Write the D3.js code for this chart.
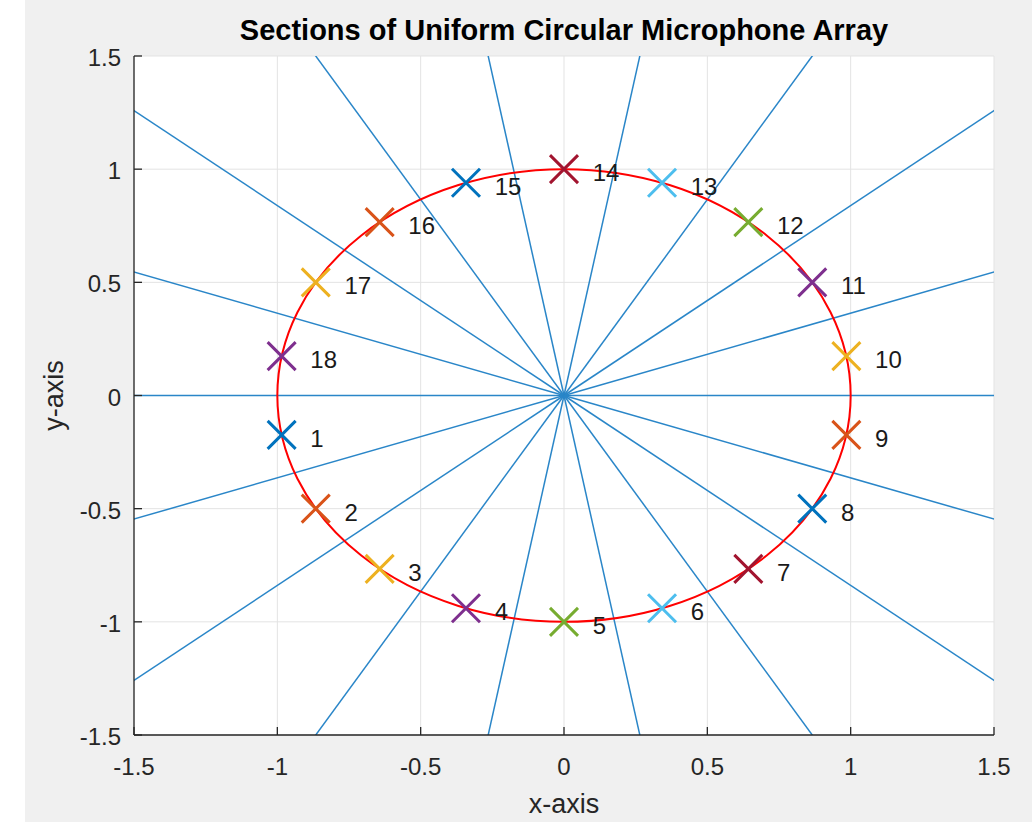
<!DOCTYPE html>
<html>
<head>
<meta charset="utf-8">
<script src="https://cdn.jsdelivr.net/npm/d3@7"></script>
<style>
  body { margin: 0; background: #fff; }
  text { font-family: "Liberation Sans", Arial, sans-serif; }
</style>
</head>
<body>
<script>
// microphone positions (x, y)
var micLabels = ['1','2','3','4','5','6','7','8','9','10','11','12','13','14','15','16','17','18'];
var micX = [-0.985, -0.866, -0.643, -0.342, 0, 0.342, 0.643, 0.866, 0.985,
            0.985, 0.866, 0.643, 0.342, 0, -0.342, -0.643, -0.866, -0.985];
var micY = [-0.174, -0.5, -0.766, -0.94, -1, -0.94, -0.766, -0.5, -0.174,
            0.174, 0.5, 0.766, 0.94, 1, 0.94, 0.766, 0.5, 0.174];
// section boundary rays (degrees)
var rayAngles = [0, 20, 40, 60, 80, 100, 120, 140, 160, 180, 200, 220, 240, 260, 280, 300, 320, 340];
var ticks = [-1.5, -1, -0.5, 0, 0.5, 1, 1.5];
var tickLabels = ['-1.5', '-1', '-0.5', '0', '0.5', '1', '1.5'];
var micColors = ['#0072BD', '#D95319', '#EDB120', '#7E2F8E', '#77AC30', '#4DBEEE', '#A2142F'];

var width = 1032, height = 831;
var pLeft = 134, pRight = 994, pTop = 56, pBottom = 735;

var svg = d3.select('body').append('svg')
  .attr('width', width)
  .attr('height', height);

// figure background
svg.append('rect')
  .attr('x', 25).attr('y', 0)
  .attr('width', width - 25).attr('height', 822)
  .attr('fill', '#f0f0f0');

var x = d3.scaleLinear().domain([-1.5, 1.5]).range([pLeft, pRight]);
var y = d3.scaleLinear().domain([-1.5, 1.5]).range([pBottom, pTop]);

svg.append('rect')
  .attr('x', pLeft).attr('y', pTop)
  .attr('width', pRight - pLeft).attr('height', pBottom - pTop)
  .attr('fill', '#fff');

svg.append('clipPath').attr('id', 'clip')
  .append('rect')
  .attr('x', pLeft).attr('y', pTop)
  .attr('width', pRight - pLeft).attr('height', pBottom - pTop);

// grid
var grid = svg.append('g');
grid.selectAll('.gx').data(ticks).enter().append('line')
  .attr('x1', function(d) { return x(d); }).attr('x2', function(d) { return x(d); })
  .attr('y1', pTop).attr('y2', pBottom)
  .attr('stroke', '#e3e3e3').attr('stroke-width', 1);
grid.selectAll('.gy').data(ticks).enter().append('line')
  .attr('y1', function(d) { return y(d); }).attr('y2', function(d) { return y(d); })
  .attr('x1', pLeft).attr('x2', pRight)
  .attr('stroke', '#e3e3e3').attr('stroke-width', 1);

var plot = svg.append('g').attr('clip-path', 'url(#clip)');

// rays from origin
plot.selectAll('.ray').data(rayAngles).enter().append('line')
  .attr('x1', x(0)).attr('y1', y(0))
  .attr('x2', function(d) { return x(3 * Math.cos(d * Math.PI / 180)); })
  .attr('y2', function(d) { return y(3 * Math.sin(d * Math.PI / 180)); })
  .attr('stroke', '#2a86c8')
  .attr('stroke-width', 1.5);

// unit circle
plot.append('ellipse')
  .attr('cx', x(0)).attr('cy', y(0))
  .attr('rx', x(1) - x(0)).attr('ry', y(0) - y(1))
  .attr('fill', 'none')
  .attr('stroke', '#ff0000')
  .attr('stroke-width', 2);

// markers
var mk = 14;
var mic = svg.append('g').selectAll('g').data(micLabels).enter().append('g')
  .attr('transform', function(d, i) { return 'translate(' + x(micX[i]) + ',' + y(micY[i]) + ')'; });
mic.append('path')
  .attr('d', 'M' + (-mk) + ',' + (-mk) + 'L' + mk + ',' + mk + 'M' + (-mk) + ',' + mk + 'L' + mk + ',' + (-mk))
  .attr('stroke', function(d, i) { return micColors[i % micColors.length]; })
  .attr('stroke-width', 3)
  .attr('fill', 'none');

// labels
svg.append('g').selectAll('text').data(micLabels).enter().append('text')
  .attr('x', function(d, i) { return x(micX[i] + 0.1); })
  .attr('y', function(d, i) { return y(micY[i]) + 12; })
  .attr('font-size', 24)
  .attr('fill', '#1a1a1a')
  .text(function(d) { return d; });

// axes lines
svg.append('line').attr('x1', pLeft).attr('x2', pLeft).attr('y1', pTop).attr('y2', pBottom)
  .attr('stroke', '#262626').attr('stroke-width', 1.3);
svg.append('line').attr('x1', pLeft).attr('x2', pRight).attr('y1', pBottom).attr('y2', pBottom)
  .attr('stroke', '#262626').attr('stroke-width', 1.3);

// ticks
svg.selectAll('.tx').data(ticks).enter().append('line')
  .attr('x1', function(d) { return x(d); }).attr('x2', function(d) { return x(d); })
  .attr('y1', pBottom).attr('y2', pBottom - 8)
  .attr('stroke', '#262626').attr('stroke-width', 1.3);
svg.selectAll('.ty').data(ticks).enter().append('line')
  .attr('y1', function(d) { return y(d); }).attr('y2', function(d) { return y(d); })
  .attr('x1', pLeft).attr('x2', pLeft + 8)
  .attr('stroke', '#262626').attr('stroke-width', 1.3);

svg.selectAll('.lx').data(ticks).enter().append('text')
  .attr('x', function(d) { return x(d); })
  .attr('y', 775)
  .attr('text-anchor', 'middle')
  .attr('font-size', 24)
  .attr('fill', '#262626')
  .text(function(d, i) { return tickLabels[i]; });
svg.selectAll('.ly').data(ticks).enter().append('text')
  .attr('x', 121)
  .attr('y', function(d) { return y(d) + 10; })
  .attr('text-anchor', 'end')
  .attr('font-size', 24)
  .attr('fill', '#262626')
  .text(function(d, i) { return tickLabels[i]; });

// title and axis labels
svg.append('text')
  .attr('x', (pLeft + pRight) / 2).attr('y', 40)
  .attr('text-anchor', 'middle')
  .attr('font-size', 29)
  .attr('font-weight', 'bold')
  .attr('fill', '#000')
  .text('Sections of Uniform Circular Microphone Array');
svg.append('text')
  .attr('x', (pLeft + pRight) / 2).attr('y', 813)
  .attr('text-anchor', 'middle')
  .attr('font-size', 27)
  .attr('fill', '#262626')
  .text('x-axis');
svg.append('text')
  .attr('transform', 'translate(63,' + y(0) + ') rotate(-90)')
  .attr('text-anchor', 'middle')
  .attr('font-size', 27)
  .attr('fill', '#262626')
  .text('y-axis');
</script>
</body>
</html>
